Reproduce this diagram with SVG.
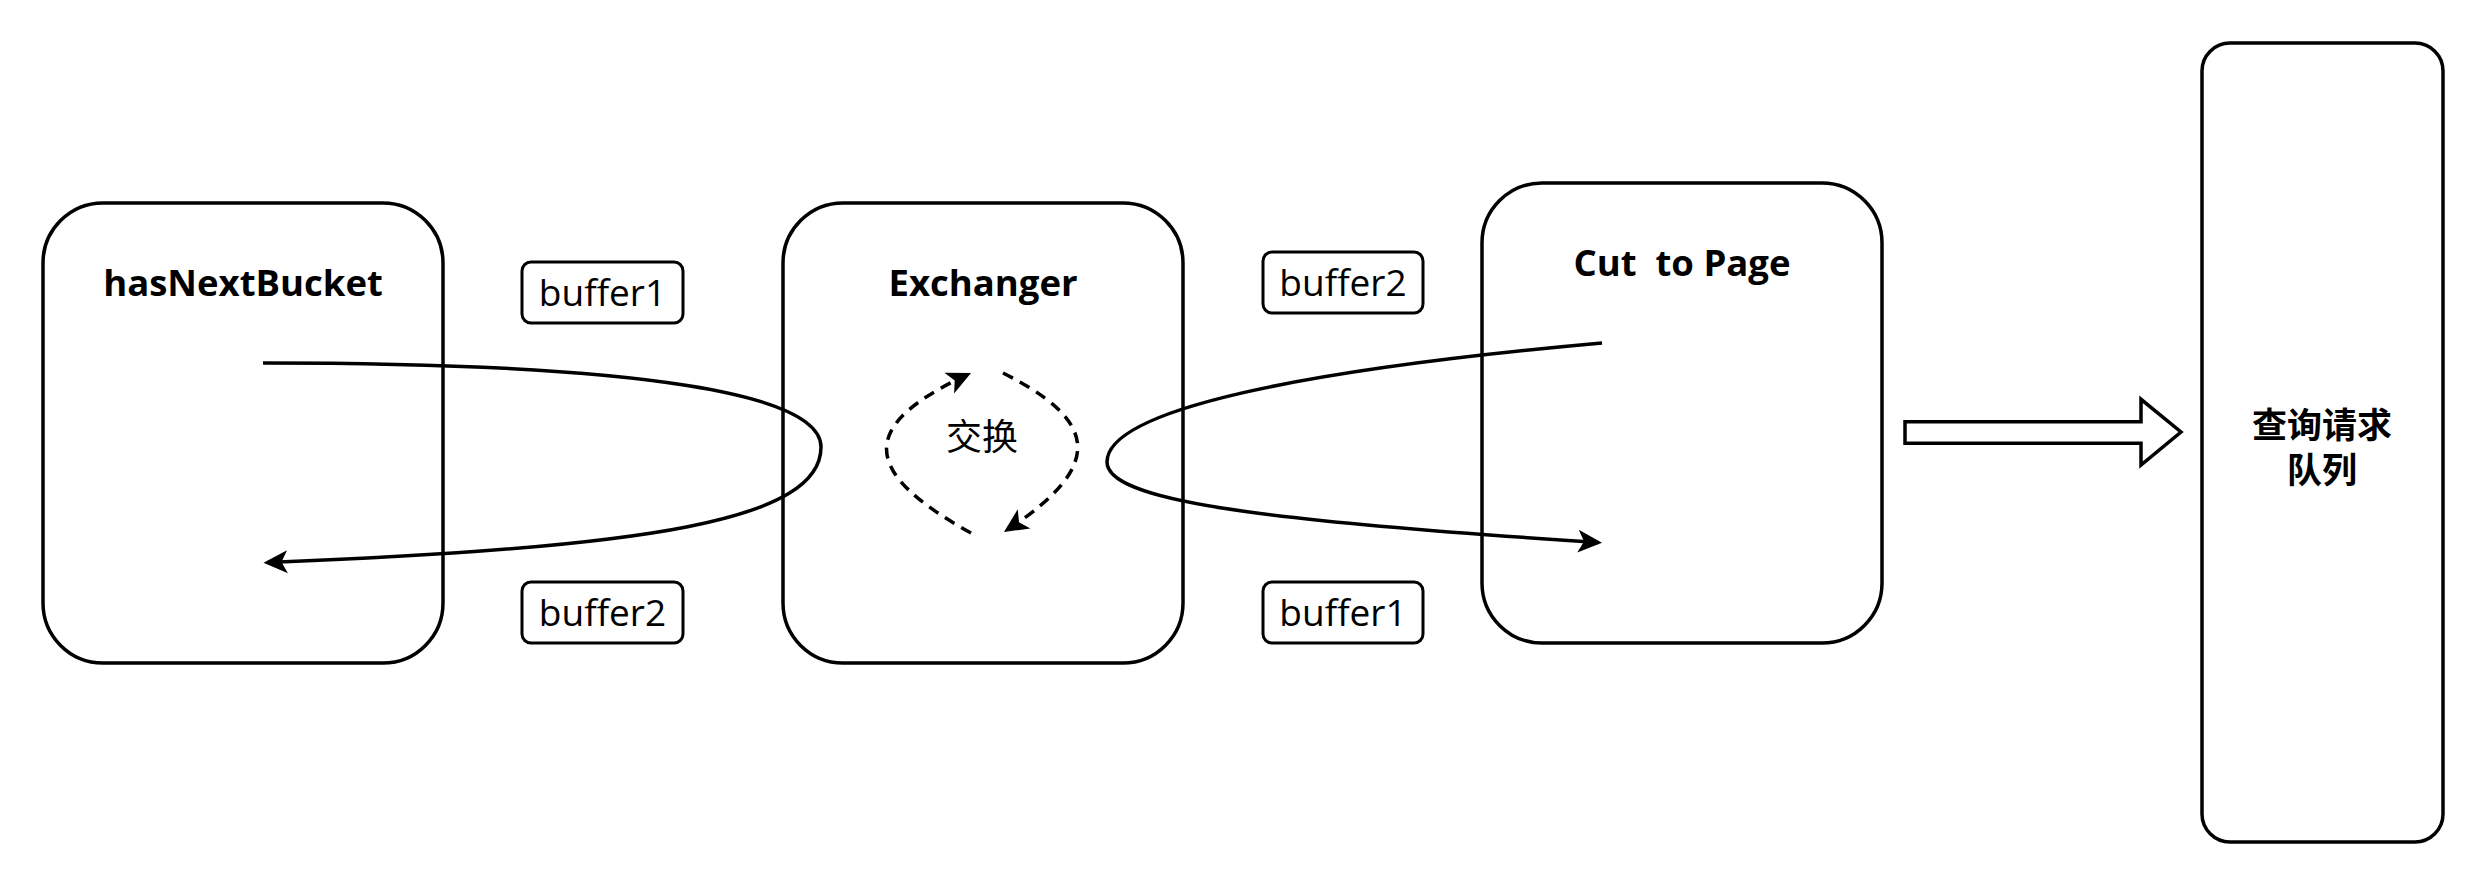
<svg xmlns="http://www.w3.org/2000/svg" width="2486" height="884" viewBox="0 0 2486 884">
<defs>
<style>
.box{fill:#fff;stroke:#000;stroke-width:3.5}
.buf{fill:#fff;stroke:#000;stroke-width:3}
.title{font-family:"Open Sans","Noto Sans",sans-serif;font-weight:bold;font-size:36.5px;fill:#000;text-anchor:middle;white-space:pre}
.lbl{font-family:"Open Sans","Noto Sans",sans-serif;font-size:37px;fill:#000;text-anchor:middle}
.cjk{font-family:"Noto Sans CJK SC",sans-serif;font-size:36px;fill:#000;text-anchor:middle;dominant-baseline:central}
.cjkb{font-family:"Noto Sans CJK SC",sans-serif;font-weight:bold;font-size:35px;fill:#000;text-anchor:middle;dominant-baseline:central}
.edge{fill:none;stroke:#000;stroke-width:3.5;marker-end:url(#arr)}
.dash{fill:none;stroke:#000;stroke-width:3.5;stroke-dasharray:11 8;marker-end:url(#arr)}
</style>
<marker id="arr" viewBox="-26 -13 28 26" refX="-4" refY="0" markerWidth="28" markerHeight="26" markerUnits="userSpaceOnUse" orient="auto">
<path d="M0,0 L-24,-11.5 L-18,0 L-24,11.5 Z" fill="#000"/>
</marker>
</defs>
<rect width="2486" height="884" fill="#fff"/>

<g id="hasNextBucket">
<rect class="box" x="43" y="203" width="400" height="460" rx="60" ry="60"/>
<text class="title" x="243" y="296">hasNextBucket</text>
</g>
<g id="buffer1-left">
<rect class="buf" x="522" y="262" width="161" height="61" rx="9"/>
<text class="lbl" x="602.5" y="306">buffer1</text>
</g>
<g id="buffer2-left">
<rect class="buf" x="522" y="582" width="161" height="61" rx="9"/>
<text class="lbl" x="602.5" y="626">buffer2</text>
</g>
<g id="exchanger">
<rect class="box" x="783" y="203" width="400" height="460" rx="60" ry="60"/>
<text class="title" x="983" y="296">Exchanger</text>
<text class="cjk" x="982" y="434">交换</text>
</g>
<g id="buffer2-right">
<rect class="buf" x="1263" y="252" width="160" height="61" rx="9"/>
<text class="lbl" x="1343" y="296">buffer2</text>
</g>
<g id="buffer1-right">
<rect class="buf" x="1263" y="582" width="160" height="61" rx="9"/>
<text class="lbl" x="1343" y="626">buffer1</text>
</g>
<g id="cut-to-page">
<rect class="box" x="1482" y="183" width="400" height="460" rx="60" ry="60"/>
<text class="title" x="1682" y="276" xml:space="preserve">Cut  to Page</text>
</g>
<g id="query-queue">
<rect class="box" x="2202" y="43" width="241" height="799" rx="28" ry="28"/>
<text class="cjkb" x="2322" y="422">查询请求</text>
<text class="cjkb" x="2322" y="467">队列</text>
</g>

<g id="connectors">
<path class="edge" d="M263 363 C650 363 821 395 821 447 C821 520 650 548 267.5 562.6"/>
<path class="edge" d="M1602 343 C1300 370 1107 410 1107 462 C1107 500 1250 520 1598 542.4"/>
<path class="dash" d="M971 533 C861 472 857 426 967.4 374.7"/>
<path class="dash" d="M1003 373 C1092 418 1111 462 1007.3 529.8"/>
<polygon class="box" points="1905,421.7 2141,421.7 2141,399.3 2181,432 2141,465 2141,443.3 1905,443.3"/>
</g>
</svg>
